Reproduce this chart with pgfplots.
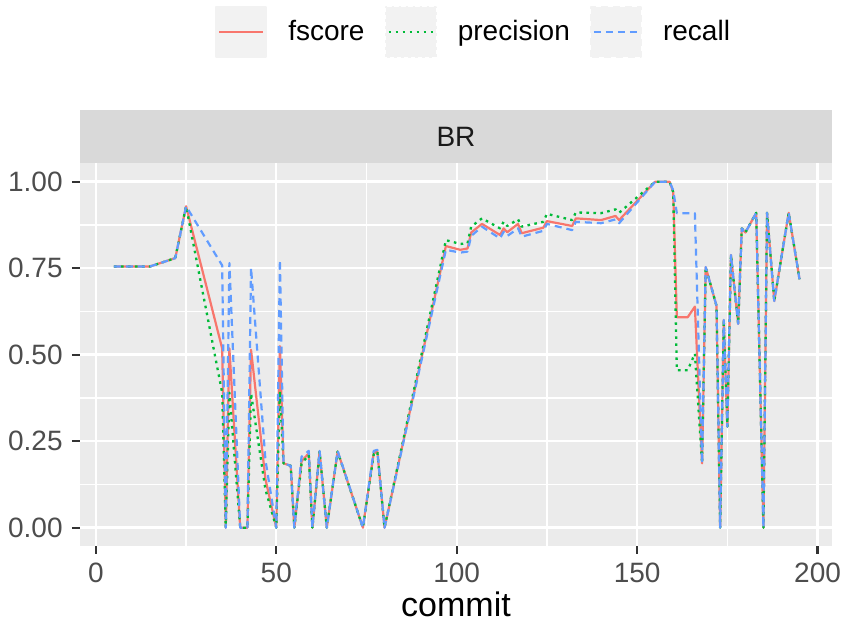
\documentclass[border=0pt]{standalone}
\usepackage{pgfplots}
\pgfplotsset{compat=1.18}
\usepackage{pgfplotstable}
\usepackage{fontspec}
\setmainfont{Liberation Sans}
\definecolor{fcol}{HTML}{F8766D}
\definecolor{pcol}{HTML}{00BA38}
\definecolor{rcol}{HTML}{619CFF}
\definecolor{panelbg}{HTML}{EBEBEB}
\definecolor{stripbg}{HTML}{D9D9D9}
\definecolor{keybg}{HTML}{F2F2F2}
\definecolor{ticktxt}{HTML}{4D4D4D}
\definecolor{tickcol}{HTML}{333333}
\definecolor{striptxt}{HTML}{1A1A1A}

\pgfplotstableread{
commit fscore precision recall
5 0.755 0.755 0.755
15 0.755 0.755 0.755
22 0.779 0.779 0.779
25 0.929 0.929 0.929
35 0.518 0.390 0.758
36 0 0 0
37 0.518 0.390 0.765
40 0 0 0
42 0 0 0
43 0.514 0.388 0.751
47 0.140 0.110 0.195
50 0 0 0
51 0.525 0.395 0.774
52 0.186 0.186 0.186
54 0.179 0.179 0.179
55 0 0 0
57 0.192 0.185 0.205
59 0.215 0.210 0.222
60 0 0 0
62 0.220 0.220 0.222
64 0 0 0
67 0.220 0.220 0.222
74 0 0 0
77 0.215 0.212 0.222
78 0.220 0.220 0.225
80 0 0 0
97 0.814 0.831 0.803
101 0.803 0.820 0.795
103 0.807 0.822 0.798
104 0.853 0.870 0.843
107 0.878 0.894 0.870
112 0.846 0.865 0.836
113 0.865 0.884 0.855
114 0.854 0.872 0.843
117 0.878 0.891 0.865
118 0.851 0.870 0.841
124 0.867 0.884 0.858
125 0.886 0.907 0.878
132 0.872 0.889 0.860
133 0.894 0.911 0.884
140 0.889 0.909 0.880
144 0.901 0.920 0.891
145 0.889 0.910 0.880
155 1 1 1
159 1 1 1
160 0.970 0.970 0.975
161 0.608 0.455 0.909
164 0.608 0.455 0.909
166 0.639 0.503 0.909
168 0.186 0.186 0.186
169 0.753 0.753 0.753
172 0.641 0.641 0.641
173 0 0 0
174 0.600 0.600 0.600
175 0.292 0.292 0.292
176 0.788 0.788 0.788
178 0.589 0.589 0.589
179 0.865 0.865 0.865
180 0.853 0.853 0.853
183 0.910 0.910 0.910
185 0 0 0
186 0.910 0.910 0.910
188 0.655 0.655 0.655
192 0.910 0.910 0.910
195 0.718 0.718 0.718
}\data

\begin{document}
\begin{tikzpicture}
\begin{axis}[
  at={(0pt,0pt)}, anchor=south west,
  scale only axis, width=376pt, height=191.5pt,
  xmin=-4.4, xmax=204, ymin=-0.0529, ymax=1.054,
  xtick={0,50,100,150,200}, ytick={0,0.25,0.5,0.75,1},
  minor xtick={25,75,125,175}, minor ytick={0.125,0.375,0.625,0.875},
  grid=both,
  major grid style={white, line width=1.2pt},
  minor grid style={white, line width=0.6pt},
  axis background/.style={fill=panelbg},
  axis line style={draw=none},
  tick align=outside, xtick pos=bottom, ytick pos=left,
  major tick length=4pt, minor tick length=0pt,
  tick style={color=tickcol, line width=1.1pt},
  /pgf/number format/assume math mode=true,
  xticklabel style={font=\fontsize{14}{16}\selectfont, text=ticktxt, anchor=north, inner sep=0pt, yshift=-4.5pt},
  yticklabel style={font=\fontsize{14}{16}\selectfont, text=ticktxt, anchor=east, inner sep=0pt, xshift=-4.5pt,
    /pgf/number format/fixed, /pgf/number format/fixed zerofill, /pgf/number format/precision=2},
  xlabel={commit},
  xlabel style={font=\fontsize{17}{20}\selectfont, at={(axis description cs:0.5,-0.1854)}, anchor=base, inner sep=0pt},
  legend columns=3,
  legend image code/.code={
    \fill[keybg] (0pt,-12.5pt) rectangle (25pt,12.5pt);
    \draw[#1] (1.5pt,0pt) -- (23.5pt,0pt);
  },
  legend style={at={(axis description cs:0.522,1.342)}, anchor=center, draw=none, fill=none,
    inner sep=0pt, outer sep=0pt, column sep=0pt, row sep=0pt,
    nodes={inner sep=0pt, font=\fontsize{14}{16}\selectfont, text=black},
    /tikz/every odd column/.append style={column sep=10.5pt},
    /tikz/every even column/.append style={column sep=10pt}},
]
\addplot[fcol, line width=1.1pt, line join=round] table[x=commit, y=fscore]{\data};
\addlegendentry{fscore}
\addplot[pcol, line width=1.15pt, line join=round, dash pattern=on 1.3pt off 2.2pt] table[x=commit, y=precision]{\data};
\addlegendentry{precision}
\addplot[rcol, line width=1.1pt, line join=round, dash pattern=on 3.5pt off 2.5pt] table[x=commit, y=recall]{\data};
\addlegendentry{recall}
\end{axis}
\fill[stripbg] (0pt,191.5pt) rectangle (376pt,218pt);
\node[font=\fontsize{14}{16}\selectfont, text=striptxt] at (188pt,204.5pt) {BR};
\path (-40pt,-40pt) rectangle (381.5pt,273pt);
\end{tikzpicture}
\end{document}
